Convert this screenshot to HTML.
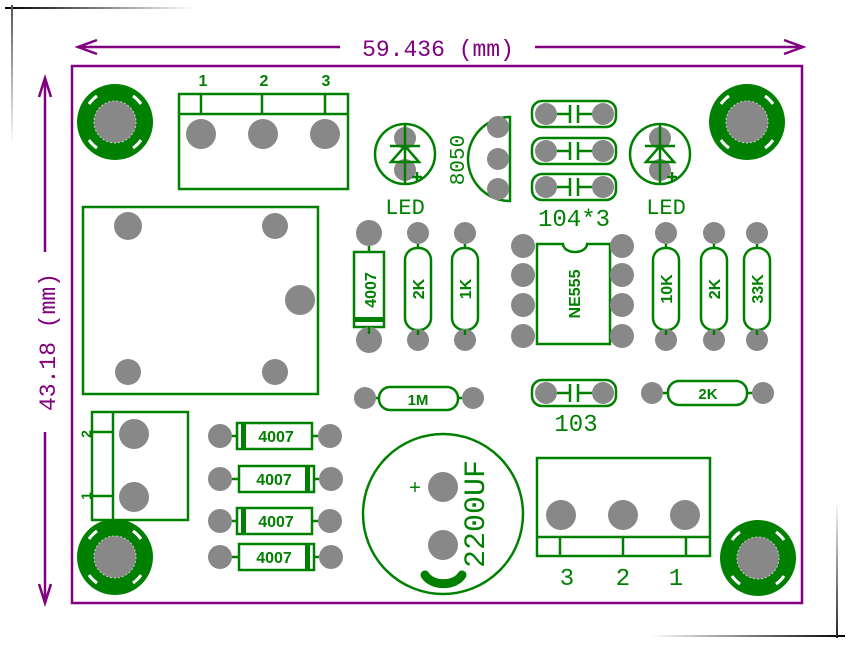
<!DOCTYPE html>
<html><head><meta charset="utf-8"><style>
html,body{margin:0;padding:0;background:#fff;width:850px;height:645px;overflow:hidden}
svg{display:block}
</style></head><body>
<svg width="850" height="645" viewBox="0 0 850 645" xmlns="http://www.w3.org/2000/svg">
<defs>
<linearGradient id="gh" x1="0" x2="1"><stop offset="0" stop-color="#000"/><stop offset="1" stop-color="#fff"/></linearGradient>
<linearGradient id="gv" x1="0" x2="0" y1="0" y2="1"><stop offset="0" stop-color="#555"/><stop offset="1" stop-color="#fff"/></linearGradient>
<linearGradient id="gh2" x1="1" x2="0"><stop offset="0" stop-color="#000"/><stop offset="1" stop-color="#fff"/></linearGradient>
<linearGradient id="gv2" x1="0" x2="0" y1="1" y2="0"><stop offset="0" stop-color="#222"/><stop offset="1" stop-color="#fff"/></linearGradient>
<g id="hole"><circle r="38" fill="#008000"/><circle r="21" fill="#888" stroke="#ccc" stroke-width="1" stroke-dasharray="2,2"/>
<path d="M-26,-18 A32,32 0 0 1 -18,-26 M18,-26 A32,32 0 0 1 26,-18 M26,18 A32,32 0 0 1 18,26 M-18,26 A32,32 0 0 1 -26,18" stroke="#fff" stroke-width="3" fill="none"/></g>
</defs>
<rect x="5" y="7" width="190" height="2" fill="url(#gh)"/>
<rect x="11" y="5" width="2" height="140" fill="url(#gv)"/>
<rect x="650" y="635" width="195" height="2" fill="url(#gh2)"/>
<rect x="836" y="500" width="2" height="138" fill="url(#gv2)"/>
<rect x="72" y="66" width="730" height="537" fill="none" stroke="#800080" stroke-width="2.5"/>
<g stroke="#800080" stroke-width="2.5" fill="none">
<line x1="78" y1="47" x2="340" y2="47"/><line x1="535" y1="47" x2="803" y2="47"/>
<path d="M97,40 L78,47 L97,54 M784,40 L803,47 L784,54"/>
<line x1="45" y1="78" x2="45" y2="252"/><line x1="45" y1="432" x2="45" y2="603"/>
<path d="M39,97 L45,78 L51,97 M39,584 L45,603 L51,584"/>
</g>
<text x="438" y="56" font-size="23" fill="#800080" text-anchor="middle" font-family="Liberation Mono,monospace">59.436 (mm)</text>
<text transform="translate(55,342) rotate(-90)" font-size="23" fill="#800080" text-anchor="middle" font-family="Liberation Mono,monospace">43.18 (mm)</text>
<use href="#hole" x="115" y="122"/><use href="#hole" x="747" y="122"/>
<use href="#hole" x="115" y="557"/><use href="#hole" x="758" y="558"/>
<g stroke="#008000" stroke-width="2.5" fill="none">
<rect x="179" y="94" width="169" height="95"/><line x1="179" y1="114" x2="348" y2="114"/>
<line x1="201" y1="94" x2="201" y2="114"/><line x1="262" y1="94" x2="262" y2="114"/><line x1="325" y1="94" x2="325" y2="114"/>
<rect x="83" y="207" width="235" height="187"/>
<circle cx="405" cy="154" r="30"/><circle cx="660" cy="154" r="30"/>
<path d="M510,117 L510,201 A42,42 0 0 1 510,117 Z"/>
<rect x="532" y="101" width="84" height="26" rx="10"/><rect x="532" y="138" width="84" height="26" rx="10"/><rect x="532" y="174" width="84" height="26" rx="10"/>
<rect x="532" y="380" width="84" height="26" rx="10"/>
<rect x="354" y="252" width="30" height="75"/>
<rect x="405" y="248" width="26" height="82" rx="12"/><rect x="452" y="248" width="26" height="82" rx="12"/>
<rect x="653" y="248" width="26" height="82" rx="12"/><rect x="701" y="248" width="26" height="82" rx="12"/><rect x="744" y="248" width="26" height="82" rx="12"/>
<path d="M537,244 L563,244 A12,8 0 0 0 587,244 L610,244 L610,344 L537,344 Z"/>
<rect x="379" y="387" width="79" height="23" rx="11"/><rect x="668" y="381" width="79" height="24" rx="11"/>
<rect x="92" y="412" width="96" height="108"/><line x1="113" y1="412" x2="113" y2="520"/>
<line x1="92" y1="432" x2="113" y2="432"/><line x1="92" y1="496" x2="113" y2="496"/>
<rect x="237" y="423" width="75" height="26"/><rect x="239" y="466" width="75" height="26"/>
<rect x="237" y="508" width="75" height="26"/><rect x="239" y="544" width="75" height="26"/>
<circle cx="443" cy="514" r="80"/>
<rect x="537" y="458" width="173" height="98"/><line x1="537" y1="537" x2="710" y2="537"/>
<line x1="560" y1="537" x2="560" y2="556"/><line x1="623" y1="537" x2="623" y2="556"/><line x1="686" y1="537" x2="686" y2="556"/>
</g>
<g fill="#888">
<circle cx="201" cy="134" r="15"/><circle cx="263" cy="134" r="15"/><circle cx="325" cy="134" r="15"/>
<circle cx="128" cy="226" r="14"/><circle cx="275" cy="226" r="13"/><circle cx="300" cy="300" r="15"/><circle cx="128" cy="372" r="13"/><circle cx="275" cy="372" r="13"/>
<circle cx="405" cy="138" r="11"/><circle cx="405" cy="170" r="11"/><circle cx="660" cy="138" r="11"/><circle cx="660" cy="170" r="11"/>
<circle cx="498" cy="127" r="11"/><circle cx="498" cy="159" r="11"/><circle cx="498" cy="189" r="11"/>
<circle cx="546" cy="114" r="11"/><circle cx="603" cy="114" r="11"/><circle cx="546" cy="151" r="11"/><circle cx="603" cy="151" r="11"/><circle cx="546" cy="187" r="11"/><circle cx="603" cy="187" r="11"/>
<circle cx="546" cy="393" r="11"/><circle cx="603" cy="393" r="11"/>
<circle cx="369" cy="233" r="13"/><circle cx="369" cy="340" r="13"/>
<circle cx="418" cy="233" r="11"/><circle cx="418" cy="340" r="11"/><circle cx="465" cy="233" r="11"/><circle cx="465" cy="340" r="11"/>
<circle cx="666" cy="233" r="11"/><circle cx="666" cy="340" r="11"/><circle cx="714" cy="233" r="11"/><circle cx="714" cy="340" r="11"/><circle cx="757" cy="233" r="11"/><circle cx="757" cy="340" r="11"/>
<circle cx="523" cy="246" r="12"/><circle cx="523" cy="275" r="12"/><circle cx="523" cy="305" r="12"/><circle cx="523" cy="336" r="12"/>
<circle cx="622" cy="246" r="12"/><circle cx="622" cy="275" r="12"/><circle cx="622" cy="305" r="12"/><circle cx="622" cy="336" r="12"/>
<circle cx="365" cy="398" r="11"/><circle cx="473" cy="398" r="11"/><circle cx="652" cy="393" r="11"/><circle cx="763" cy="393" r="11"/>
<circle cx="134" cy="434" r="15"/><circle cx="134" cy="497" r="15"/>
<circle cx="220" cy="436" r="12"/><circle cx="330" cy="436" r="12"/><circle cx="220" cy="479" r="12"/><circle cx="331" cy="479" r="12"/>
<circle cx="220" cy="521" r="12"/><circle cx="330" cy="521" r="12"/><circle cx="220" cy="557" r="12"/><circle cx="331" cy="557" r="12"/>
<circle cx="443" cy="487" r="15"/><circle cx="443" cy="545" r="15"/>
<circle cx="561" cy="515" r="15"/><circle cx="623" cy="515" r="15"/><circle cx="685" cy="515" r="15"/>
</g>
<g stroke="#008000" stroke-width="2.5" fill="none">
<path d="M405,124 L405,184 M390,146 L420,146 M391,162 L419,162 L405,146 Z M417,172 L417,182 M412,177 L422,177"/>
<path d="M660,124 L660,184 M645,146 L675,146 M646,162 L674,162 L660,146 Z M672,172 L672,182 M667,177 L677,177"/>
<path d="M557,114 L570,114 M570,105 L570,123 M578,105 L578,123 M578,114 L592,114"/>
<path d="M557,151 L570,151 M570,142 L570,160 M578,142 L578,160 M578,151 L592,151"/>
<path d="M557,187 L570,187 M570,178 L570,196 M578,178 L578,196 M578,187 L592,187"/>
<path d="M557,393 L570,393 M570,384 L570,402 M578,384 L578,402 M578,393 L592,393"/>
<path d="M369,246 L369,252 M369,327 L369,334 M418,244 L418,248 M418,330 L418,335 M465,244 L465,248 M465,330 L465,335 M666,244 L666,248 M666,330 L666,335 M714,244 L714,248 M714,330 L714,335 M757,244 L757,248 M757,330 L757,335"/>
<path d="M376,398 L379,398 M458,398 L462,398 M663,393 L668,393 M747,393 L752,393"/>
<path d="M232,436 L237,436 M312,436 L318,436 M232,479 L239,479 M314,479 L319,479 M232,521 L237,521 M312,521 L318,521 M232,557 L239,557 M314,557 L319,557"/>
<path d="M425,575 A20,14 0 0 0 462,575" stroke-width="9" stroke-linecap="round"/>
</g>
<g fill="#008000">
<rect x="354" y="317" width="30" height="5"/>
<rect x="241" y="423" width="5" height="26"/><rect x="305" y="466" width="5" height="26"/>
<rect x="241" y="508" width="5" height="26"/><rect x="305" y="544" width="5" height="26"/>
</g>
<g fill="#008000" font-family="Liberation Mono,monospace">
<text x="405" y="214" font-size="22" text-anchor="middle">LED</text><text x="666" y="214" font-size="22" text-anchor="middle">LED</text>
<text x="574" y="226" font-size="24" text-anchor="middle">104*3</text>
<text x="576" y="431" font-size="24" text-anchor="middle">103</text>
<text transform="translate(464,160) rotate(-90)" font-size="21" text-anchor="middle">8050</text>
<text x="415" y="494" font-size="20" text-anchor="middle">+</text>
<text transform="translate(484,514) rotate(-90)" font-size="30" text-anchor="middle">2200UF</text>
<text x="567" y="585" font-size="24" text-anchor="middle">3</text><text x="623" y="585" font-size="24" text-anchor="middle">2</text><text x="676" y="585" font-size="24" text-anchor="middle">1</text>
</g>
<g fill="#008000" font-family="Liberation Sans,sans-serif" font-weight="bold">
<text x="203" y="86" font-size="16" text-anchor="middle">1</text><text x="264" y="86" font-size="16" text-anchor="middle">2</text><text x="326" y="86" font-size="16" text-anchor="middle">3</text>
<text transform="translate(376,290) rotate(-90)" font-size="16" text-anchor="middle">4007</text>
<text transform="translate(424,289) rotate(-90)" font-size="16" text-anchor="middle">2K</text>
<text transform="translate(471,289) rotate(-90)" font-size="16" text-anchor="middle">1K</text>
<text transform="translate(580,294) rotate(-90)" font-size="16" text-anchor="middle">NE555</text>
<text transform="translate(672,289) rotate(-90)" font-size="16" text-anchor="middle">10K</text>
<text transform="translate(720,289) rotate(-90)" font-size="16" text-anchor="middle">2K</text>
<text transform="translate(763,289) rotate(-90)" font-size="16" text-anchor="middle">33K</text>
<text x="418" y="405" font-size="15" text-anchor="middle">1M</text>
<text x="708" y="399" font-size="15" text-anchor="middle">2K</text>
<text x="276" y="442" font-size="16" text-anchor="middle">4007</text><text x="274" y="485" font-size="16" text-anchor="middle">4007</text>
<text x="276" y="527" font-size="16" text-anchor="middle">4007</text><text x="274" y="563" font-size="16" text-anchor="middle">4007</text>
<text transform="translate(91,434) rotate(-90)" font-size="14" text-anchor="middle">2</text>
<text transform="translate(91,496) rotate(-90)" font-size="14" text-anchor="middle">1</text>
</g>
</svg>
</body></html>
